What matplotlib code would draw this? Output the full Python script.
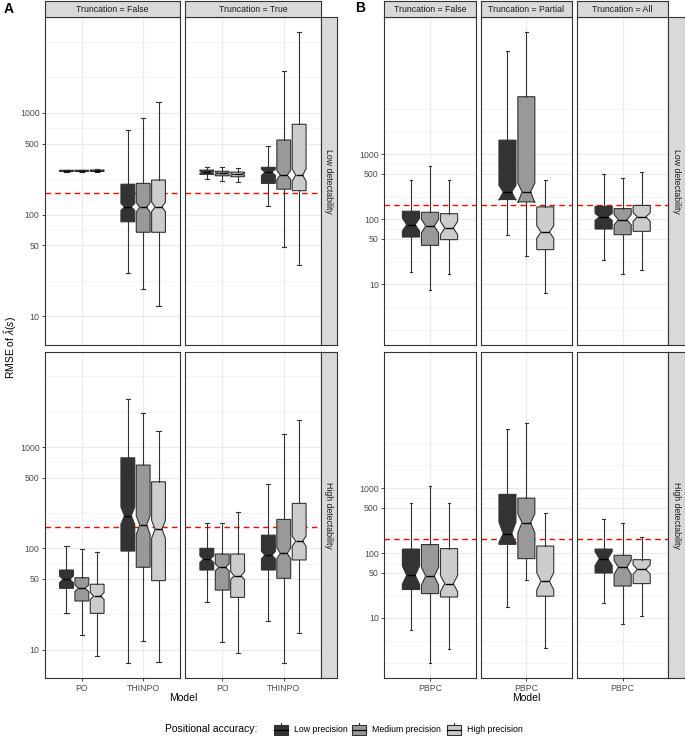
import numpy as np
import matplotlib
matplotlib.use("Agg")
import matplotlib.pyplot as plt
from matplotlib.patches import Rectangle
from matplotlib.lines import Line2D

plt.rcParams['font.family'] = ['Liberation Sans', 'DejaVu Sans']
plt.rcParams['mathtext.fontset'] = 'custom'
plt.rcParams['mathtext.rm'] = 'Liberation Sans'
plt.rcParams['mathtext.it'] = 'Liberation Sans:italic'

# ---- data: each row = [whisker low, q1, median, q3, whisker high, notch low, notch high]
precisions = ["Low precision", "Medium precision", "High precision"]
fills = ["#333333", "#999999", "#cccccc"]
detect_labels = ["Low detectability", "High detectability"]

a_models = ["PO", "THINPO"]
a_truncation = ["Truncation = False", "Truncation = True"]
b_models = ["PBPC"]
b_truncation = ["Truncation = False", "Truncation = Partial", "Truncation = All"]

a_low_false_po = [[262, 266, 270, 273, 277, 268, 272],
                  [263, 267, 270, 273, 277, 268, 272],
                  [264, 267, 271, 274, 278, 269, 273]]
a_low_false_thinpo = [[26.4, 85, 119, 199, 681, 110, 129],
                      [18.7, 67, 118, 203, 887, 106, 131],
                      [12.6, 67, 119, 219, 1290, 107, 133]]
a_low_true_po = [[222, 249, 261, 274, 292, 255, 267],
                 [215, 241, 255, 267, 292, 250, 260],
                 [210, 236, 249, 262, 289, 244, 254]]
a_low_true_thinpo = [[122, 203, 261, 292, 473, 243, 280],
                     [48, 178, 245, 542, 2590, 221, 272],
                     [32, 172, 245, 774, 6240, 213, 282]]
a_high_false_po = [[22.8, 40.3, 49.4, 61.1, 106, 45.8, 53.3],
                   [13.9, 30.2, 40.3, 51.3, 97.8, 37.4, 43.5],
                   [8.65, 22.8, 33.8, 44.2, 91.4, 31.2, 36.6]]
a_high_false_thinpo = [[7.33, 94, 210, 783, 2960, 173, 256],
                       [12.2, 65, 170, 664, 2150, 138, 209],
                       [7.6, 48, 154, 454, 1440, 126, 189]]
a_high_true_po = [[29.7, 61.1, 78.3, 100, 177, 72.5, 84.5],
                  [12.0, 38.7, 64.9, 87.9, 177, 59.9, 70.3],
                  [9.2, 32.8, 53.7, 87.9, 227, 49, 58.9]]
a_high_true_thinpo = [[19.3, 61.1, 85.9, 135, 432, 79, 93],
                      [7.3, 50.6, 89.3, 193, 1343, 79, 101],
                      [14.5, 76.8, 118, 278, 1850, 105, 132]]

b_low_false = [[15.5, 53.4, 82.8, 133, 398, 66, 104],
               [8.1, 39.8, 78.9, 128, 653, 62, 100],
               [14.6, 48.7, 73.5, 122, 398, 58, 93]]
b_low_partial = [[56.7, 201, 263, 1640, 38800, 196, 333],
                 [27.2, 185, 263, 7620, 74500, 181, 362],
                 [7.45, 34.2, 63.8, 155, 398, 51, 80]]
b_low_all = [[24, 70.9, 109, 158, 492, 96, 123],
             [14.6, 58, 98.9, 146, 438, 82, 118],
             [16.8, 65.3, 109, 163, 534, 93, 126]]
b_high_false = [[6.47, 27.4, 45.4, 115, 587, 33, 63],
                [1.99, 23.7, 44.3, 135, 1090, 32, 60],
                [3.27, 21, 33.8, 117, 587, 25.5, 45]]
b_high_partial = [[14.8, 136, 199, 800, 8200, 145, 300],
                  [39, 82, 294, 701, 10000, 205, 400],
                  [3.45, 21.6, 36.7, 128, 412, 27, 50]]
b_high_all = [[16.7, 49.2, 82, 115, 338, 64, 105],
              [8.0, 31, 60.3, 92.2, 294, 47, 77],
              [10.9, 33.8, 56.1, 79, 176, 47, 66]]

threshold = 163
y_breaks = [10, 50, 100, 500, 1000]

# panel grids: [row][col] -> list of per-model stats
a_panels = [[[a_low_false_po, a_low_false_thinpo], [a_low_true_po, a_low_true_thinpo]],
            [[a_high_false_po, a_high_false_thinpo], [a_high_true_po, a_high_true_thinpo]]]
b_panels = [[[b_low_false], [b_low_partial], [b_low_all]],
            [[b_high_false], [b_high_partial], [b_high_all]]]

# ---- layout (pixels)
W, H = 685, 736
fig = plt.figure(figsize=(W / 100, H / 100), dpi=100)


def px_axes(x0, x1, y0, y1):
    return fig.add_axes([x0 / W, 1 - y1 / H, (x1 - x0) / W, (y1 - y0) / H])


rows_px = [(17.3, 345.0), (351.7, 678.3)]
strip_top = (1.0, 17.3)
a_cols = [(45.0, 180.0), (185.3, 320.7)]
a_strip_right = (320.7, 336.7)
b_cols = [(384.3, 475.7), (481.0, 571.7), (577.0, 668.3)]
b_strip_right = (668.3, 684.5)

dark = "#333333"
tick_col = "#4d4d4d"


def log_limits(panels):
    vals = [v for row in panels for col in row for m in col for s in m for v in s[:5]]
    lo, hi = np.log10(min(vals)), np.log10(max(vals))
    pad = 0.05 * (hi - lo)
    return 10 ** (lo - pad), 10 ** (hi + pad)


def minor_grid():
    b = np.log10(y_breaks)
    bd = b[1] - b[0]
    ext = np.concatenate([[b[0] - bd], b, [b[-1] + bd]])
    mids = (ext[:-1] + ext[1:]) / 2
    return 10 ** np.concatenate([[ext[0]], mids, [ext[-1]]])


def strip_axes(x0, x1, y0, y1):
    sax = px_axes(x0, x1, y0, y1)
    sax.set_facecolor("#d9d9d9")
    sax.set_xticks([])
    sax.set_yticks([])
    for sp in sax.spines.values():
        sp.set_color(dark)
        sp.set_linewidth(0.8)
    return sax


def draw_group(panels, cols, strip_right, models, truncs):
    ylim = log_limits(panels)
    n = len(models)
    for r, (y0, y1) in enumerate(rows_px):
        for c, (x0, x1) in enumerate(cols):
            ax = px_axes(x0, x1, y0, y1)
            ax.set_yscale('log')
            ax.set_xlim(0.4, n + 0.6)
            ax.set_ylim(*ylim)
            for v in minor_grid():
                ax.axhline(v, color="#f0f0f0", lw=0.5, zorder=0)
            for v in y_breaks:
                ax.axhline(v, color="#ebebeb", lw=0.8, zorder=0)
            for i in range(n):
                ax.axvline(i + 1, color="#ebebeb", lw=0.8, zorder=0)
            ax.axhline(threshold, color="red", lw=1.0, ls=(0, (4, 3)), zorder=1)
            for m, stats in enumerate(panels[r][c]):
                for k, s in enumerate(stats):
                    st = dict(whislo=s[0], q1=s[1], med=s[2], q3=s[3], whishi=s[4],
                              cilo=s[5], cihi=s[6], fliers=[])
                    ax.bxp([st], positions=[m + 1 + (k - 1) * 0.25], widths=0.225,
                           patch_artist=True, shownotches=True, showfliers=False,
                           capwidths=0.03 * (n + 0.2),
                           boxprops=dict(facecolor=fills[k], edgecolor=dark, lw=0.8),
                           medianprops=dict(color="black", lw=1.0),
                           whiskerprops=dict(color=dark, lw=0.8),
                           capprops=dict(color=dark, lw=0.8),
                           manage_ticks=False, zorder=2)
            ax.minorticks_off()
            ax.set_yticks(y_breaks)
            ax.set_yticklabels([str(v) for v in y_breaks])
            ax.tick_params(axis='y', length=2.5, width=0.6, color=dark, labelsize=6.3,
                           labelcolor=tick_col, pad=1.5)
            if c != 0:
                ax.tick_params(axis='y', left=False, labelleft=False)
            if r == len(rows_px) - 1:
                ax.set_xticks(range(1, n + 1))
                ax.set_xticklabels(models)
                ax.tick_params(axis='x', length=2.5, width=0.6, color=dark, labelsize=6.3,
                               labelcolor=tick_col, pad=1.5)
            else:
                ax.set_xticks([])
            for sp in ax.spines.values():
                sp.set_color(dark)
                sp.set_linewidth(0.8)
            if c == len(cols) - 1:
                sax = strip_axes(strip_right[0], strip_right[1], y0, y1)
                sax.text(0.5, 0.5, detect_labels[r], rotation=-90, ha='center', va='center',
                         fontsize=6.3, color="#1a1a1a", transform=sax.transAxes)
    for c, (x0, x1) in enumerate(cols):
        sax = strip_axes(x0, x1, strip_top[0], strip_top[1])
        sax.text(0.5, 0.45, truncs[c], ha='center', va='center', fontsize=6.3,
                 color="#1a1a1a", transform=sax.transAxes)


draw_group(a_panels, a_cols, a_strip_right, a_models, a_truncation)
draw_group(b_panels, b_cols, b_strip_right, b_models, b_truncation)

# overlay for titles and legend
ov = fig.add_axes([0, 0, 1, 1], zorder=-1)
ov.set_xlim(0, W)
ov.set_ylim(H, 0)
ov.axis('off')

ov.text(4, 9, "A", fontsize=10, fontweight='bold', ha='left', va='center')
ov.text(355, 8, "B", fontsize=10, fontweight='bold', ha='left', va='center')
ov.text(11, 348, r"RMSE of $\hat{\lambda}(s)$", rotation=90, ha='center', va='center',
        fontsize=7.5)
ov.text((a_cols[0][0] + a_cols[-1][1]) / 2, 698, "Model", ha='center', va='center', fontsize=7.5)
ov.text((b_cols[0][0] + b_cols[-1][1]) / 2, 698, "Model", ha='center', va='center', fontsize=7.5)

ov.text(165, 729.5, "Positional accuracy:", ha='left', va='center', fontsize=7.5)
key_x = [274, 351.7, 446.7]
for k in range(3):
    kx = key_x[k]
    ov.add_line(Line2D([kx + 7, kx + 7], [722.5, 736], color=dark, lw=0.8, zorder=1))
    ov.add_patch(Rectangle((kx, 724.5), 14, 10, facecolor=fills[k], edgecolor=dark, lw=0.8,
                           zorder=2))
    ov.add_line(Line2D([kx, kx + 14], [729.5, 729.5], color="black", lw=0.9, zorder=3))
    ov.text(kx + 20, 729.5, precisions[k], ha='left', va='center', fontsize=6.3)

fig.savefig("out.png", dpi=100)
